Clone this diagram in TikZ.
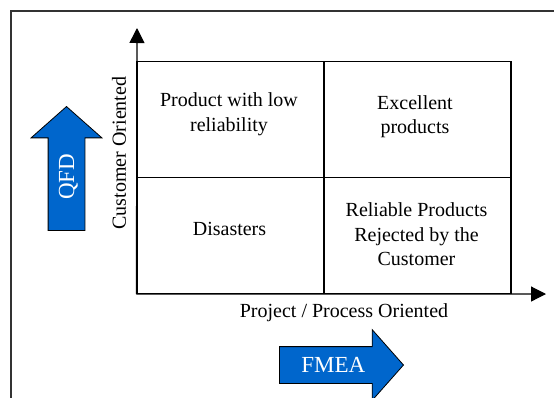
\documentclass[tikz,border=0pt]{standalone}
\usepackage{fontspec}
\setmainfont{Liberation Serif}
\usepackage{tikz}
\usetikzlibrary{arrows.meta,shapes.arrows}
\definecolor{arrowblue}{rgb}{0,.4,.8}
\tikzset{quadnode/.style={draw,line width=1.2pt,minimum width=187pt,minimum height=116pt,inner sep=0pt}}
\tikzset{quadtext/.style={align=center,font=\fontsize{20}{24.5}\selectfont,inner sep=0pt}}
\tikzset{blockarrow/.style={single arrow,draw=black,line width=0.8pt,fill=arrowblue,text=white,font=\fontsize{23}{26}\selectfont,single arrow head extend=17pt,single arrow tip angle=97,minimum height=124pt,text height=15pt,text depth=0pt,inner ysep=10.5pt,inner xsep=0pt}}

\begin{document}
\begin{tikzpicture}[x=1pt,y=-1pt]
		\useasboundingbox (0,0) rectangle (554,397);
		\clip (0,0) rectangle (554,397);
		\draw[line width=1.3pt,black!80] (11,11) rectangle (580,420);
		%
		\node[quadnode] (lowrel) at (230.5,119.5) {};
		\node[quadnode] (excel) at (417.5,119.5) {};
		\node[quadnode] (disast) at (230.5,235.5) {};
		\node[quadnode] (reject) at (417.5,235.5) {};
		%
		\node[quadtext] (t1) at (229,114) {Product with low\\reliability};
		\node[quadtext] (t2) at (415,116.5) {Excellent\\products};
		\node[quadtext] (t3) at (229.5,229) {Disasters};
		\node[quadtext] (t4) at (416.5,234.5) {Reliable Products\\Rejected by the\\Customer};
		%
		\coordinate (orig) at (disast.south west);
		\coordinate (ytip) at (137,28);
		\coordinate (xtip) at (546,294);
		\draw[line width=1.2pt,-{Triangle[length=15pt,width=15pt]}] (orig) -- (ytip);
		\draw[line width=1.2pt,-{Triangle[length=15pt,width=15pt]}] (orig) -- (xtip);
		%
		\node[quadtext,rotate=90] (ylab) at (119,153) {Customer Oriented};
		\node[quadtext] (xlab) at (344,313) {Project / Process Oriented};
		%
		\node[blockarrow,rotate=90,anchor=tip] (qfd) at (66.5,106) {QFD};
		\node[blockarrow,anchor=tip] (fmea) at (404,365) {FMEA};
	\end{tikzpicture}
\end{document}
